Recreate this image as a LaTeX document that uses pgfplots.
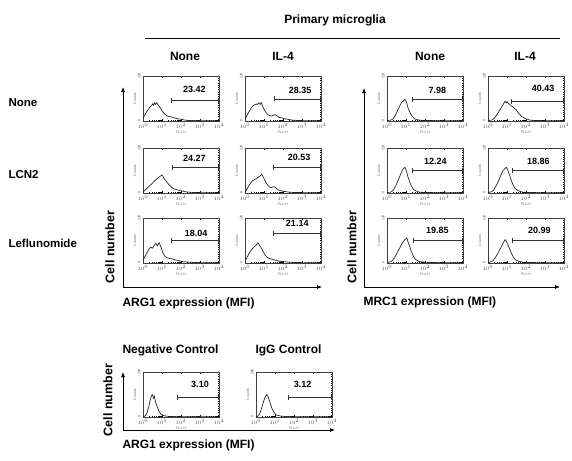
\documentclass[border=0pt]{standalone}
\usepackage{fontspec}
\setmainfont{Liberation Sans}
\usepackage{pgfplots}
\pgfplotsset{compat=1.18}
\usetikzlibrary{arrows.meta}

\pgfplotsset{facs/.style={
  scale only axis, width=76pt, height=45pt,
  xmin=0, xmax=4, ymin=0, ymax=100,
  xtick={0,1,2,3,4},
  xticklabels={$10^0$,$10^1$,$10^2$,$10^3$,$10^4$},
  minor xtick={0.301,0.477,0.602,0.699,0.778,0.845,0.903,0.954,
    1.301,1.477,1.602,1.699,1.778,1.845,1.903,1.954,
    2.301,2.477,2.602,2.699,2.778,2.845,2.903,2.954,
    3.301,3.477,3.602,3.699,3.778,3.845,3.903,3.954},
  ytick={0,100},
  minor ytick={5,10,...,95},
  tick label style={font=\fontsize{3.5}{4}\selectfont, text=black!70},
  xticklabel style={yshift=1pt},
  yticklabel style={xshift=1pt, rotate=90},
  xlabel={FL1-H}, ylabel={Counts},
  xlabel style={font=\fontsize{3.5}{4}\selectfont, text=black!60, yshift=5pt},
  ylabel style={font=\fontsize{3.5}{4}\selectfont, text=black!60, yshift=-5pt},
  axis line style={line width=0.5pt, black!75},
  tick style={black, line width=0.3pt},
  major tick length=2pt, minor tick length=1pt,
  tick align=inside,
}}

% #1 left, #2 bottom, #3 top label, #4 coords, #5 gate x, #6 gate y, #7 text x, #8 text y, #9 value
\newcommand{\panel}[9]{%
\begin{axis}[facs, at={(#1pt,-#2pt)}, anchor=south west, yticklabels={0,#3}]
\addplot[black!85, line width=0.7pt, no marks] coordinates {#4};
\draw[{Bar[width=5pt]}-{Bar[width=5pt]}, line width=0.6pt, black!80] (#5,#6) -- (4,#6);
\node[font=\bfseries\fontsize{9}{10}\selectfont] at (#7,#8) {#9};
\end{axis}}

\begin{document}
\begin{tikzpicture}[x=1pt,y=1pt]
\useasboundingbox (0,0) rectangle (572,-460);

% headers
\node[font=\bfseries\fontsize{12}{14}\selectfont] at (335,-20) {Primary microglia};
\draw[line width=0.6pt] (145,-38) -- (560,-38);
\node[font=\bfseries\fontsize{12}{14}\selectfont] at (185,-56) {None};
\node[font=\bfseries\fontsize{12}{14}\selectfont] at (283,-56) {IL-4};
\node[font=\bfseries\fontsize{12}{14}\selectfont] at (430,-56) {None};
\node[font=\bfseries\fontsize{12}{14}\selectfont] at (525,-56) {IL-4};

% row labels
\node[font=\bfseries\fontsize{11.5}{13}\selectfont, anchor=west] at (5,-103) {None};
\node[font=\bfseries\fontsize{11.5}{13}\selectfont, anchor=west] at (5,-175) {LCN2};
\node[font=\bfseries\fontsize{11.5}{13}\selectfont, anchor=west] at (5,-243) {Leflunomide};

% big axes
\draw[line width=0.7pt, -{Latex[length=5pt,width=4pt]}] (123,-287) -- (123,-87);
\draw[line width=0.7pt, -{Latex[length=5pt,width=4pt]}] (123,-287) -- (322,-287);
\draw[line width=0.7pt, -{Latex[length=5pt,width=4pt]}] (364,-287) -- (364,-88);
\draw[line width=0.7pt, -{Latex[length=5pt,width=4pt]}] (364,-287) -- (560,-287);
\draw[line width=0.7pt, -{Latex[length=5pt,width=4pt]}] (123,-430) -- (123,-372);
\draw[line width=0.7pt, -{Latex[length=5pt,width=4pt]}] (123,-430) -- (335,-430);

\node[font=\bfseries\fontsize{12.5}{14}\selectfont, rotate=90] at (110,-247) {Cell number};
\node[font=\bfseries\fontsize{12.5}{14}\selectfont, rotate=90] at (352,-247) {Cell number};
\node[font=\bfseries\fontsize{12.5}{14}\selectfont, rotate=90] at (108,-400) {Cell number};
\node[font=\bfseries\fontsize{12}{14}\selectfont, anchor=west] at (119,-303) {ARG1 expression (MFI)};
\node[font=\bfseries\fontsize{12}{14}\selectfont, anchor=west] at (360,-302) {MRC1 expression (MFI)};
\node[font=\bfseries\fontsize{12}{14}\selectfont, anchor=west] at (119,-445) {ARG1 expression (MFI)};
\node[font=\bfseries\fontsize{12}{14}\selectfont, anchor=west] at (119,-350) {Negative Control};
\node[font=\bfseries\fontsize{12}{14}\selectfont, anchor=west] at (252,-350) {IgG Control};

% ARG1 panels
\panel{143}{121}{120}{(0,6)(0.08,12)(0.15,18)(0.25,24)(0.35,30)(0.45,34)(0.5,38)(0.55,35)(0.6,40)(0.66,37)(0.72,41)(0.78,36)(0.85,33)(0.95,26)(1.05,20)(1.15,15)(1.25,12)(1.35,10)(1.5,9)(1.65,7)(1.8,5)(2.0,4)(2.2,2)(2.5,1)(2.8,0.5)(4,0.3)}{1.45}{45}{2.7}{70}{23.42}
\panel{245}{121}{120}{(0,5)(0.1,12)(0.2,20)(0.3,27)(0.4,33)(0.5,36)(0.6,38)(0.65,36)(0.72,40)(0.8,37)(0.86,41)(0.92,34)(1.0,26)(1.1,19)(1.2,14)(1.3,12)(1.4,11)(1.5,13)(1.6,14)(1.7,11)(1.8,8)(2.0,6)(2.2,4)(2.5,2)(2.8,1)(4,0.3)}{1.5}{49}{2.9}{68}{28.35}
\panel{143}{193}{120}{(0,2)(0.1,6)(0.2,10)(0.3,14)(0.4,18)(0.5,22)(0.6,27)(0.7,30)(0.8,34)(0.9,37)(1.0,40)(1.05,37)(1.1,33)(1.2,27)(1.3,22)(1.4,17)(1.5,13)(1.6,10)(1.8,7)(2.0,5)(2.2,3)(2.5,1.5)(3,0.5)(4,0.3)}{1.55}{57}{2.7}{78}{24.27}
\panel{245}{193}{120}{(0,2)(0.1,8)(0.2,16)(0.3,22)(0.4,27)(0.5,30)(0.6,32)(0.7,35)(0.8,38)(0.88,42)(0.95,36)(1.05,28)(1.15,20)(1.25,15)(1.35,12)(1.45,13)(1.55,14)(1.65,10)(1.8,6)(2.0,4)(2.3,2)(2.6,1)(4,0.3)}{1.47}{57}{2.85}{78}{20.53}
\panel{143}{263}{120}{(0,5)(0.1,14)(0.2,22)(0.3,30)(0.4,35)(0.5,33)(0.6,40)(0.68,44)(0.75,38)(0.85,45)(0.95,35)(1.05,22)(1.15,15)(1.25,12)(1.4,10)(1.55,9)(1.7,7)(1.9,5)(2.1,3)(2.4,2)(2.8,1)(4,0.3)}{1.45}{50}{2.8}{66}{18.04}
\panel{245}{263}{120}{(0,4)(0.1,12)(0.2,20)(0.3,27)(0.4,32)(0.5,37)(0.6,40)(0.68,45)(0.75,40)(0.85,34)(0.95,26)(1.05,18)(1.15,13)(1.3,10)(1.45,8)(1.6,6)(1.8,4)(2.0,3)(2.3,2)(2.7,1)(4,0.3)}{1.47}{66}{2.75}{88}{21.14}

% MRC1 panels
\panel{387}{121}{120}{(0,1)(0.2,2)(0.3,4)(0.4,10)(0.5,18)(0.6,27)(0.7,36)(0.78,42)(0.85,44)(0.9,46)(0.95,48)(1.0,45)(1.05,38)(1.1,30)(1.2,20)(1.3,12)(1.4,7)(1.5,4)(1.7,2)(2.0,1)(4,0.5)}{1.3}{48}{2.65}{67}{7.98}
\panel{488}{121}{120}{(0,1)(0.2,2)(0.3,5)(0.4,10)(0.5,16)(0.6,23)(0.7,30)(0.8,37)(0.9,44)(0.95,40)(1.0,43)(1.1,38)(1.2,34)(1.3,32)(1.4,28)(1.5,24)(1.6,18)(1.7,13)(1.8,9)(2.0,5)(2.2,2)(2.5,1)(4,0.5)}{1.2}{44}{2.9}{72}{40.43}
\panel{387}{193}{120}{(0,1)(0.2,2)(0.3,5)(0.4,11)(0.5,20)(0.6,30)(0.7,40)(0.8,50)(0.88,55)(0.95,57)(1.0,52)(1.05,45)(1.1,36)(1.2,24)(1.3,14)(1.4,8)(1.5,5)(1.7,2)(2.0,1)(4,0.5)}{1.3}{50}{2.55}{70}{12.24}
\panel{488}{193}{120}{(0,1)(0.2,3)(0.3,7)(0.4,14)(0.5,22)(0.6,32)(0.7,42)(0.8,50)(0.9,55)(0.97,57)(1.05,50)(1.15,38)(1.25,25)(1.35,15)(1.45,9)(1.6,5)(1.8,2)(2.1,1)(4,0.5)}{1.25}{50}{2.65}{70}{18.86}
\panel{387}{263}{120}{(0,1)(0.2,3)(0.3,6)(0.4,12)(0.5,20)(0.6,28)(0.7,36)(0.8,44)(0.9,50)(1.0,54)(1.05,55)(1.1,48)(1.2,36)(1.3,24)(1.4,14)(1.5,8)(1.65,4)(1.9,2)(2.2,1)(4,0.5)}{1.35}{50}{2.65}{72}{19.85}
\panel{488}{263}{120}{(0,1)(0.2,3)(0.3,7)(0.4,13)(0.5,20)(0.6,28)(0.7,36)(0.8,45)(0.9,52)(0.97,48)(1.05,40)(1.15,30)(1.25,20)(1.35,12)(1.45,7)(1.6,4)(1.8,2)(2.1,1)(4,0.5)}{1.25}{50}{2.7}{72}{20.99}

% controls
\panel{143}{417}{200}{(0,0)(0.1,2)(0.2,8)(0.3,22)(0.38,38)(0.45,48)(0.5,50)(0.55,42)(0.6,46)(0.65,35)(0.75,22)(0.85,12)(0.95,6)(1.1,3)(1.3,1.5)(1.6,0.8)(4,0.3)}{1.77}{43}{3.0}{73}{3.10}
\panel{256}{417}{200}{(0,0)(0.1,2)(0.2,8)(0.3,20)(0.4,35)(0.5,46)(0.57,50)(0.65,44)(0.75,30)(0.85,18)(0.95,10)(1.05,5)(1.2,3)(1.4,1.5)(1.7,0.8)(4,0.3)}{1.7}{43}{2.45}{73}{3.12}
\end{tikzpicture}
\end{document}
